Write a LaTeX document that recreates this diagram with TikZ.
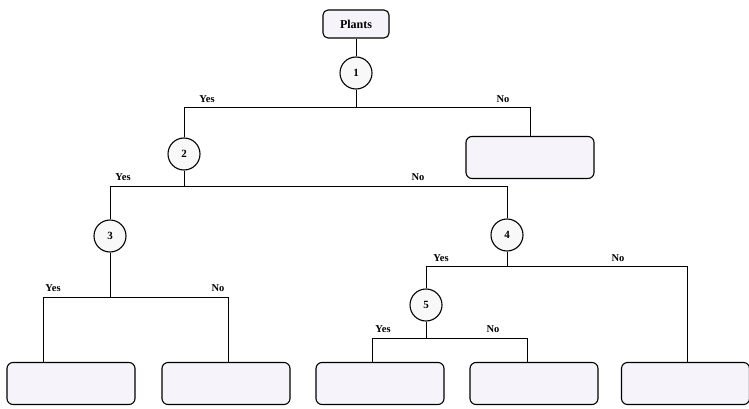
\documentclass[tikz,border=0pt]{standalone}
\usepackage{fontspec}
\setmainfont{Liberation Serif}
\begin{document}
\begin{tikzpicture}[x=1pt,y=-1pt,
  leaf/.style={draw, line width=1.1pt, rounded corners=6pt, fill=lavbox, minimum width=128pt, minimum height=42pt, inner sep=0pt},
  qnode/.style={draw, circle, line width=1.1pt, fill=circfill, minimum size=32pt, inner sep=0pt, font=\bfseries\fontsize{11}{11}\selectfont},
  lab/.style={font=\bfseries\fontsize{10.5}{10.5}\selectfont, inner sep=0pt, anchor=center},
  conn/.style={line width=0.9pt}]
\definecolor{lavbox}{RGB}{246,243,250}
\definecolor{circfill}{RGB}{248,248,248}
\useasboundingbox (0,0) rectangle (749,409);
% nodes
\node[draw, line width=1.1pt, rounded corners=5pt, fill=lavbox, minimum width=66pt, minimum height=28pt, inner sep=0pt, font=\bfseries\fontsize{12}{12}\selectfont] (plants) at (356,24) {Plants};
\node[qnode] (c1) at (356,73) {1};
\node[qnode] (c2) at (184,154) {2};
\node[qnode] (c3) at (110,236) {3};
\node[qnode] (c4) at (507,235) {4};
\node[qnode] (c5) at (426,305) {5};
\node[leaf] (r1) at (530,157.5) {};
\node[leaf] (b1) at (71,383.5) {};
\node[leaf] (b2) at (226,383.5) {};
\node[leaf] (b3) at (380,383.5) {};
\node[leaf] (b4) at (534,383.5) {};
\node[leaf] (b5) at (685.5,383.5) {};
% junctions
\coordinate (j1) at (356,107);
\coordinate (j2) at (184,186);
\coordinate (j3) at (110,297);
\coordinate (j4) at (507,266);
\coordinate (j5) at (426,338);
% connectors
\draw[conn] (plants) -- (c1);
\draw[conn] (c1) -- (j1);
\draw[conn] (c2.north) |- (j1);
\draw[conn] (r1.north) |- (j1);
\draw[conn] (c2) -- (j2);
\draw[conn] (c3.north) |- (j2);
\draw[conn] (c4.north) |- (j2);
\draw[conn] (c3) -- (j3);
\draw[conn] (b1.north -| 43,0) |- (j3);
\draw[conn] (b2.north -| 228,0) |- (j3);
\draw[conn] (c4) -- (j4);
\draw[conn] (c5.north) |- (j4);
\draw[conn] (b5.north -| 687,0) |- (j4);
\draw[conn] (c5) -- (j5);
\draw[conn] (b3.north -| 372,0) |- (j5);
\draw[conn] (b4.north -| 527,0) |- (j5);
% labels
\node[lab] (y1) at (207,99) {Yes};
\node[lab] (n1) at (503,99) {No};
\node[lab] (y2) at (123,177) {Yes};
\node[lab] (n2) at (418,177) {No};
\node[lab] (y3) at (53,288) {Yes};
\node[lab] (n3) at (218,288) {No};
\node[lab] (y4) at (441,258) {Yes};
\node[lab] (n4) at (618,258) {No};
\node[lab] (y5) at (383,329) {Yes};
\node[lab] (n5) at (493,329) {No};
\end{tikzpicture}
\end{document}
